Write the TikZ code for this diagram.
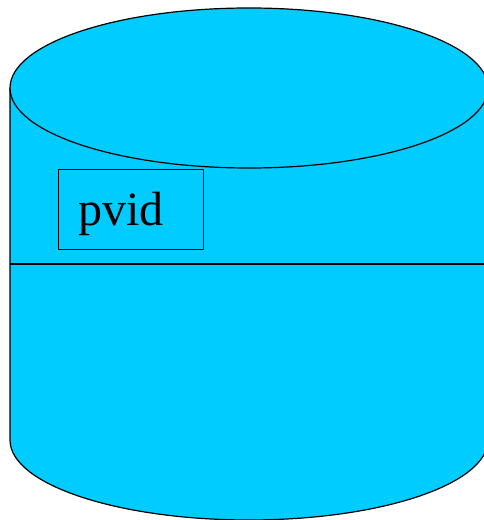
\documentclass[tikz,border=0pt]{standalone}
\usepackage{fontspec}
\setmainfont{Liberation Serif}
\usepackage{tikz}

\definecolor{diskblue}{HTML}{00CCFF}

\begin{document}
\begin{tikzpicture}[
  x=1pt, y=1pt,
  line width=1.2pt,
  disk/.style={fill=diskblue, draw=black},
  lbl/.style={draw=black, anchor=north west, inner xsep=20pt, inner ysep=0pt,
    text width=105pt, text height=56pt, text depth=24pt, align=left,
    font=\fontsize{48}{56}\selectfont},
]
\useasboundingbox (0,0) rectangle (484,520);
\begin{scope}
\clip (0,0) rectangle (484,520);
% cylinder body
\fill[diskblue] (10,432) -- (10,80) arc[start angle=180, end angle=360, x radius=239, y radius=80] -- (488,432) -- cycle;
\draw (10,432) -- (10,80) arc[start angle=180, end angle=360, x radius=239, y radius=80] -- (488,432);
% divider
\draw (10,256) -- (488,256);
% top face
\draw[disk] (249,432) ellipse[x radius=239, y radius=80];
\end{scope}
\node[lbl] (pvid) at (58,351) {pvid};
\end{tikzpicture}
\end{document}
